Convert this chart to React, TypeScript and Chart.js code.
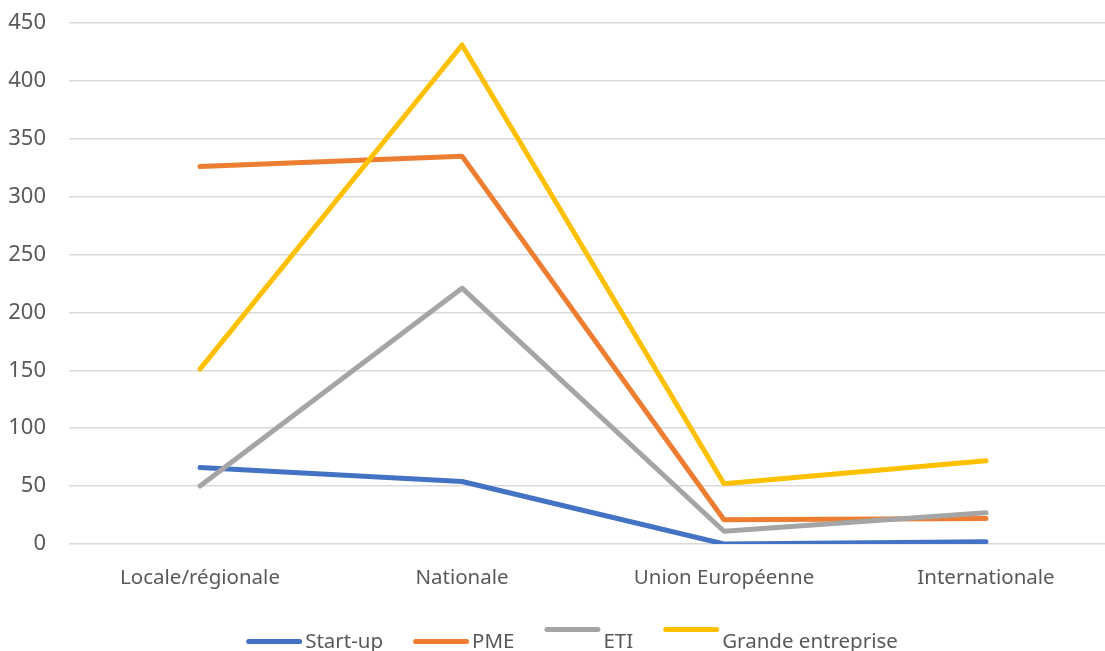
import React, { useEffect, useRef } from "react";
import { Chart, registerables } from "chart.js";

Chart.register(...registerables);

const categories = ["Locale/régionale", "Nationale", "Union Européenne", "Internationale"];
const startUp = [66, 54, 0, 2];
const pme = [326, 335, 21, 22];
const eti = [50, 221, 11, 27];
const grande = [151, 431, 52, 72];
const seriesNames = ["Start-up", "PME", "ETI", "Grande entreprise"];
const seriesColors = ["#4472C4", "#ED7D31", "#A5A5A5", "#FFC000"];
const yMax = 450;
const yStep = 50;

const FONT = "'Noto Sans', sans-serif";
const TEXT_COLOR = "#595959";

// legend layout (style only)
const LEGEND_CENTER_X = 572;
const LEGEND_Y = 642;
const LEGEND_LINE_W = 56;
const LEGEND_TEXT_GAP = 3;
const LEGEND_ITEM_GAP = 30;
const LEGEND_LINE_RAISE = [0, 0, 12, 12];

const customLegend = {
  id: "customLegend",
  afterDraw(chart: any) {
    const ctx = chart.ctx as CanvasRenderingContext2D;
    ctx.save();
    ctx.font = `20.5px ${FONT}`;
    const widths = seriesNames.map((n) => ctx.measureText(n).width);
    const total =
      widths.reduce((s, w) => s + w + LEGEND_LINE_W + LEGEND_TEXT_GAP, 0) +
      LEGEND_ITEM_GAP * (seriesNames.length - 1);
    let x = LEGEND_CENTER_X - total / 2;
    seriesNames.forEach((name, i) => {
      const ly = LEGEND_Y - 0.5 - LEGEND_LINE_RAISE[i];
      ctx.strokeStyle = seriesColors[i];
      ctx.lineWidth = 5;
      ctx.lineCap = "round";
      ctx.beginPath();
      ctx.moveTo(x + 2.5, ly);
      ctx.lineTo(x + LEGEND_LINE_W - 2.5, ly);
      ctx.stroke();
      x += LEGEND_LINE_W + LEGEND_TEXT_GAP;
      ctx.fillStyle = TEXT_COLOR;
      ctx.textBaseline = "middle";
      ctx.textAlign = "left";
      ctx.fillText(name, x, LEGEND_Y);
      x += widths[i] + LEGEND_ITEM_GAP;
    });
    ctx.restore();
  },
};

export default function App() {
  const ref = useRef<HTMLCanvasElement | null>(null);

  useEffect(() => {
    if (!ref.current) return;
    const values = [startUp, pme, eti, grande];
    const chart = new Chart(ref.current, {
      type: "line",
      data: {
        labels: categories,
        datasets: values.map((v, i) => ({
          label: seriesNames[i],
          data: v,
          borderColor: seriesColors[i],
          backgroundColor: seriesColors[i],
          borderWidth: 5,
          pointRadius: 0,
          pointHoverRadius: 0,
          tension: 0,
          borderCapStyle: "round" as const,
          borderJoinStyle: "round" as const,
          order: 4 - i,
        })),
      },
      plugins: [customLegend],
      options: {
        animation: false,
        responsive: false,
        devicePixelRatio: 1,
        layout: { padding: { left: 0, right: 8, top: 23, bottom: 47 } },
        plugins: {
          tooltip: { enabled: false },
          title: { display: false },
          legend: { display: false },
        },
        scales: {
          x: {
            offset: true,
            grid: { display: false, drawTicks: false },
            border: { display: false },
            ticks: {
              color: TEXT_COLOR,
              font: { family: FONT, size: 20.5 },
              padding: 22,
              maxRotation: 0,
            },
            afterFit: (scale: any) => {
              scale.height = 60;
              scale.paddingLeft = 0;
              scale.paddingRight = 0;
            },
          },
          y: {
            min: 0,
            max: yMax,
            grid: { color: "#d9d9d9", lineWidth: 1.5, drawTicks: false },
            border: { display: false },
            ticks: {
              stepSize: yStep,
              color: TEXT_COLOR,
              font: { family: FONT, size: 22 },
              padding: 23,
            },
            afterFit: (scale: any) => {
              scale.width = 69;
              scale.paddingTop = 0;
              scale.paddingBottom = 0;
            },
          },
        },
      },
    });
    return () => chart.destroy();
  }, []);

  return (
    <div style={{ position: "fixed", left: 0, top: 0, width: 1105, height: 651, overflow: "hidden", background: "#fff" }}>
      <div style={{ position: "absolute", left: 0, top: 0 }}>
        <canvas ref={ref} width={1125} height={651} style={{ display: "block" }} />
      </div>
    </div>
  );
}
